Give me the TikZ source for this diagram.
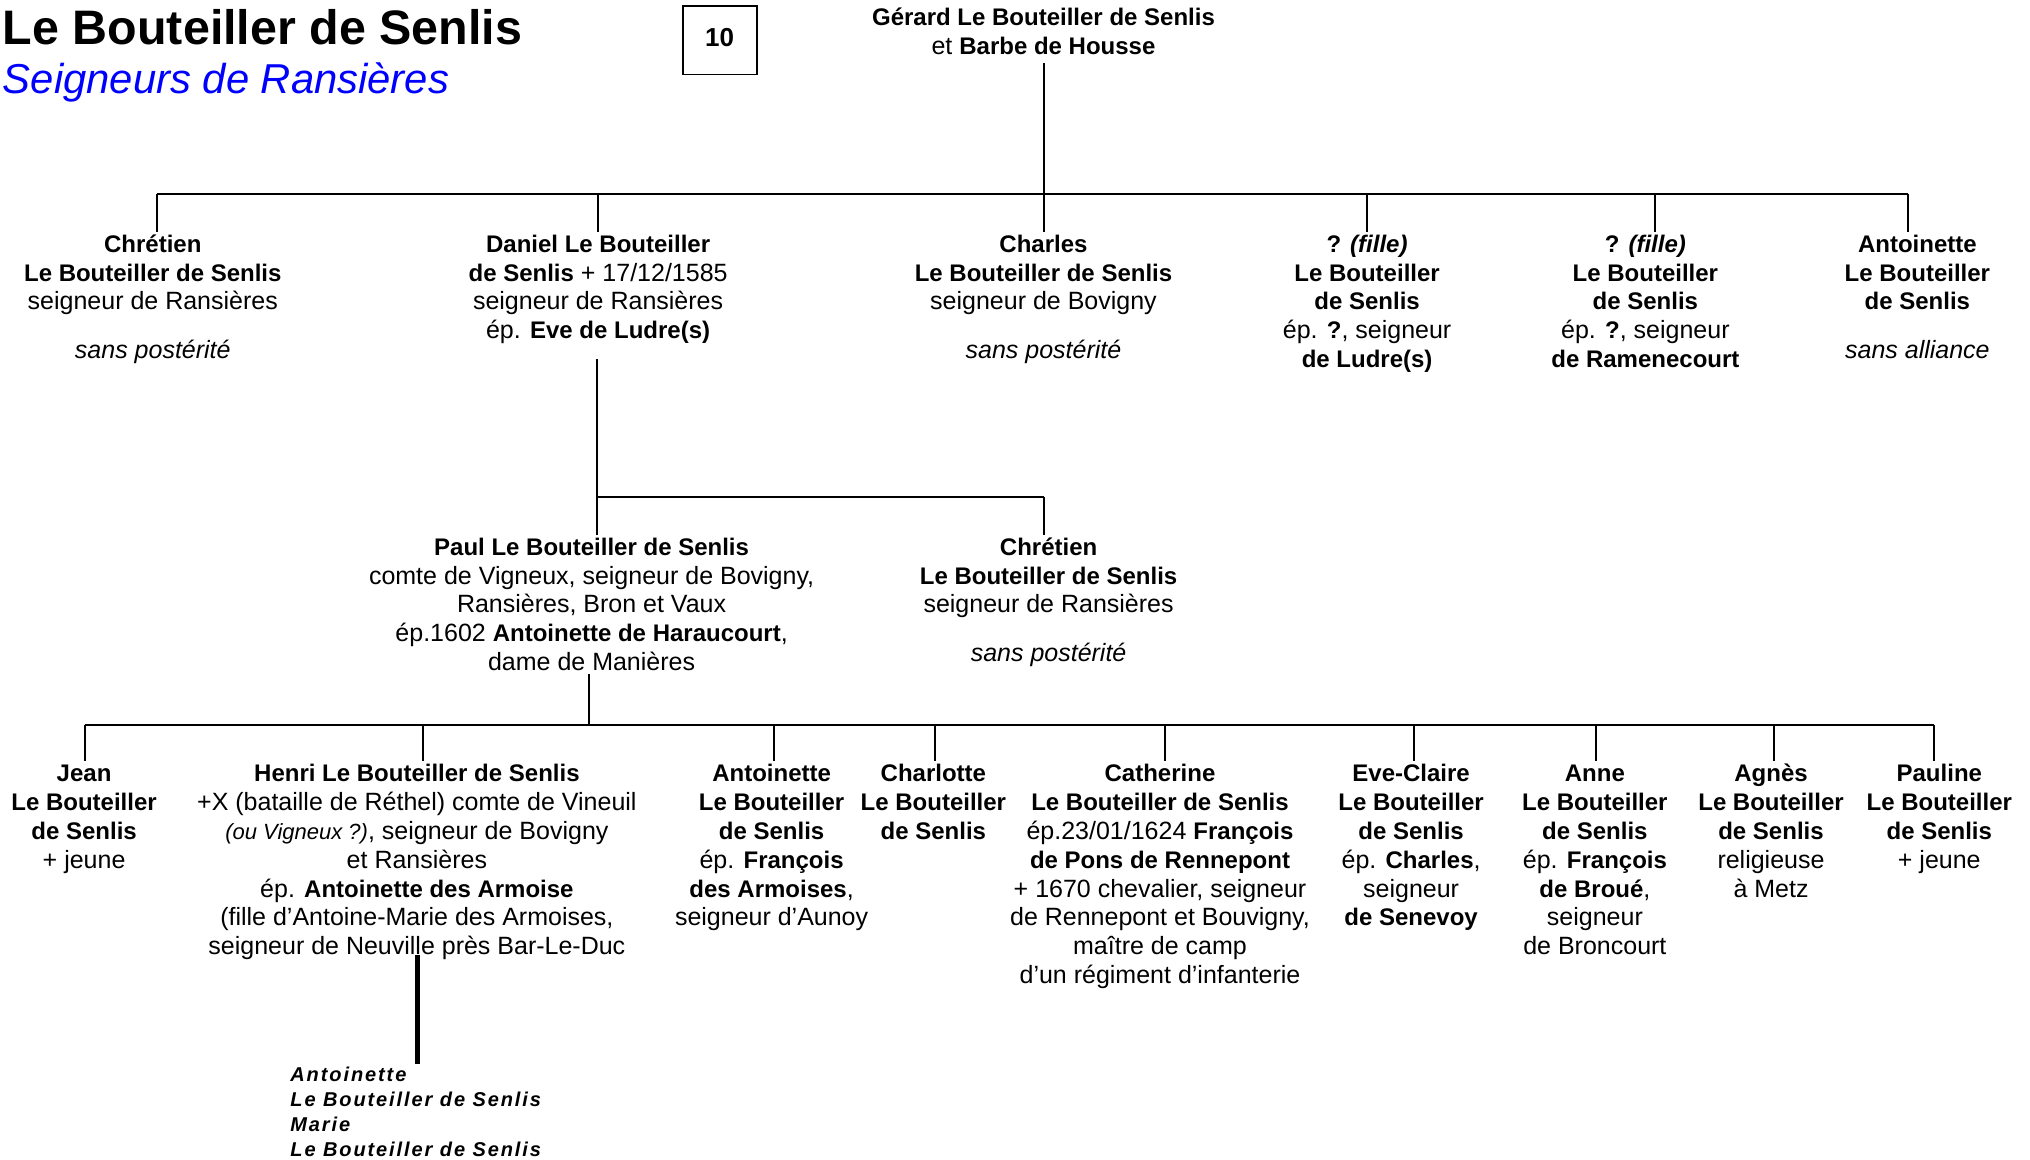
\documentclass[tikz,border=0pt]{standalone}
\usepackage{fontspec}
\setmainfont{Liberation Sans}
\newcommand\fsz{\fontsize{12.5}{14.4}\selectfont}
\newcommand\B[1]{{\fontsize{12}{14.4}\selectfont\bfseries #1}}
\newcommand\smallit{\fontsize{11}{14.4}\selectfont\itshape}
\begin{document}
\begin{tikzpicture}[x=0.5pt,y=-0.5pt,
  person/.style={align=center, inner sep=0pt, anchor=north, font=\fsz},
  link/.style={line width=1pt},
  thicklink/.style={line width=2.5pt}]
\useasboundingbox (0,0) rectangle (2030,1160);
% title
\node[anchor=base west, inner sep=0pt, font=\fontsize{24.2}{28}\selectfont\bfseries] (title) at (2.6,45) {Le Bouteiller de Senlis};
\node[anchor=base west, inner sep=0pt, text=blue, font=\fontsize{20.9}{24}\selectfont\itshape] (subtitle) at (2.6,93.3) {Seigneurs de Ransières};
\node[draw, line width=0.8pt, minimum width=37pt, minimum height=34.3pt, inner sep=0pt, font=\fontsize{13}{15}\selectfont\bfseries] (num) at (719.7,40.3) {\raisebox{3.3pt}{10}};
% root
\node[person] (G) at (1043.5,5.2) {\strut\B{Gérard Le Bouteiller de Senlis}\\et \B{Barbe de Housse}};
% generation 1
\node[person] (C1) at (152.8,231.8) {\strut\B{Chrétien}\\\B{Le Bouteiller de Senlis}\\seigneur de Ransières\\[10pt]\textit{sans postérité}};
\node[person] (D) at (598.1,231.8) {\strut\B{Daniel Le Bouteiller}\\\B{de Senlis} + 17/12/1585\\seigneur de Ransières\\ép. \B{Eve de Ludre(s)}};
\node[person] (Ch) at (1043.5,231.8) {\strut\B{Charles}\\\B{Le Bouteiller de Senlis}\\seigneur de Bovigny\\[10pt]\textit{sans postérité}};
\node[person] (F1) at (1367.1,231.8) {\strut\B{? \textit{(fille)}}\\\B{Le Bouteiller}\\\B{de Senlis}\\ép. \B{?}, seigneur\\\B{de Ludre(s)}};
\node[person] (F2) at (1645.4,231.8) {\strut\B{? \textit{(fille)}}\\\B{Le Bouteiller}\\\B{de Senlis}\\ép. \B{?}, seigneur\\\B{de Ramenecourt}};
\node[person] (A1) at (1917.4,231.8) {\strut\B{Antoinette}\\\B{Le Bouteiller}\\\B{de Senlis}\\[10pt]\textit{sans alliance}};
% generation 2
\node[person] (P) at (591.6,534.7) {\strut\B{Paul Le Bouteiller de Senlis}\\comte de Vigneux, seigneur de Bovigny,\\Ransières, Bron et Vaux\\ép.1602 \B{Antoinette de Haraucourt},\\dame de Manières};
\node[person] (C2) at (1048.6,534.7) {\strut\B{Chrétien}\\\B{Le Bouteiller de Senlis}\\seigneur de Ransières\\[10pt]\textit{sans postérité}};
% generation 3
\node[person] (J) at (84.1,761.3) {\strut\B{Jean}\\\B{Le Bouteiller}\\\B{de Senlis}\\+ jeune};
\node[person] (H) at (416.9,761.3) {\strut\B{Henri Le Bouteiller de Senlis}\\+X (bataille de Réthel) comte de Vineuil\\{\smallit (ou Vigneux ?)}, seigneur de Bovigny\\et Ransières\\ép. \B{Antoinette des Armoise}\\(fille d’Antoine-Marie des Armoises,\\seigneur de Neuville près Bar-Le-Duc};
\node[person] (A2) at (771.6,761.3) {\strut\B{Antoinette}\\\B{Le Bouteiller}\\\B{de Senlis}\\ép. \B{François}\\\B{des Armoises},\\seigneur d’Aunoy};
\node[person] (Cl) at (933.4,761.3) {\strut\B{Charlotte}\\\B{Le Bouteiller}\\\B{de Senlis}};
\node[person] (Ca) at (1160,761.3) {\strut\B{Catherine}\\\B{Le Bouteiller de Senlis}\\ép.23/01/1624 \B{François}\\\B{de Pons de Rennepont}\\+ 1670 chevalier, seigneur\\de Rennepont et Bouvigny,\\maître de camp\\d’un régiment d’infanterie};
\node[person] (E) at (1411.1,761.3) {\strut\B{Eve-Claire}\\\B{Le Bouteiller}\\\B{de Senlis}\\ép. \B{Charles},\\seigneur\\\B{de Senevoy}};
\node[person] (An) at (1594.9,761.3) {\strut\B{Anne}\\\B{Le Bouteiller}\\\B{de Senlis}\\ép. \B{François}\\\B{de Broué},\\seigneur\\de Broncourt};
\node[person] (Ag) at (1771,761.3) {\strut\B{Agnès}\\\B{Le Bouteiller}\\\B{de Senlis}\\religieuse\\à Metz};
\node[person] (Pa) at (1939.3,761.3) {\strut\B{Pauline}\\\B{Le Bouteiller}\\\B{de Senlis}\\+ jeune};
% generation 4
\node[anchor=north west, inner sep=0pt, align=left, font=\fontsize{10}{12.5}\selectfont\bfseries\itshape\addfontfeatures{LetterSpace=9.5}] (HD) at (290,1063.8) {\strut Antoinette\\Le Bouteiller de Senlis\\Marie\\Le Bouteiller de Senlis};
% junctions
\coordinate (b1) at (1043.5,194.2);
\coordinate (j1a) at (156.6,194.2);
\coordinate (j1b) at (598.1,194.2);
\coordinate (j1d) at (1367.1,194.2);
\coordinate (j1e) at (1654.5,194.2);
\coordinate (j1f) at (1908.3,194.2);
\coordinate (j2a) at (596.8,497.1);
\coordinate (j2b) at (1043.5,497.1);
\coordinate (j3) at (589,725);
\coordinate (j3a) at (85.4,725);
\coordinate (j3b) at (423.3,725);
\coordinate (j3c) at (774.2,725);
\coordinate (j3d) at (934.7,725);
\coordinate (j3e) at (1165.1,725);
\coordinate (j3f) at (1413.7,725);
\coordinate (j3g) at (1596.2,725);
\coordinate (j3h) at (1773.6,725);
\coordinate (j3i) at (1934.1,725);
% connectors gen 1
\draw[link, shorten <=4pt] (G.south) -- (G.south |- Ch.north);
\draw[link] (j1a) -- (j1f);
\foreach \j/\n in {j1a/C1, j1b/D, j1d/F1, j1e/F2, j1f/A1}
  \draw[link] (\j) -- (\j |- \n.north);
% connectors gen 2
\draw[link] ([yshift=-7.5pt]D.south -| j2a) -- (j2a);
\draw[link] (j2a) -- (j2b);
\draw[link] (j2a) -- (j2a |- P.north);
\draw[link] (j2b) -- (j2b |- C2.north);
% connectors gen 3
\draw[link] ([yshift=-1.5pt]P.south -| j3) -- (j3);
\draw[link] (j3a) -- (j3i);
\foreach \j/\n in {j3a/J, j3b/H, j3c/A2, j3d/Cl, j3e/Ca, j3f/E, j3g/An, j3h/Ag, j3i/Pa}
  \draw[link] (\j) -- (\j |- \n.north);
% connector gen 4
\draw[thicklink] ([xshift=0.4pt,yshift=2.5pt]H.south) -- ([xshift=0.4pt]H.south |- HD.north);
\end{tikzpicture}
\end{document}
